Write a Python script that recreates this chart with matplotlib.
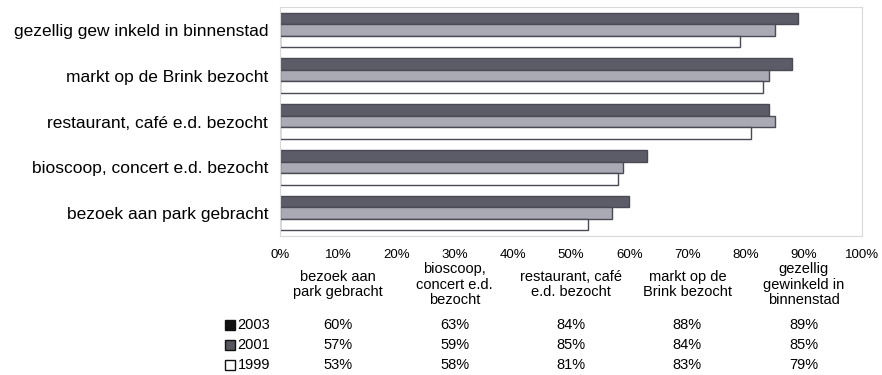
import numpy as np
import matplotlib.pyplot as plt

plt.rcParams['font.family'] = ['Liberation Sans', 'DejaVu Sans']

# categories, top to bottom in the chart
categories = ["gezellig gew inkeld in binnenstad", "markt op de Brink bezocht",
              "restaurant, café e.d. bezocht", "bioscoop, concert e.d. bezocht",
              "bezoek aan park gebracht"]
years = ["2003", "2001", "1999"]
v2003 = [89, 88, 84, 63, 60]
v2001 = [85, 84, 85, 59, 57]
v1999 = [79, 83, 81, 58, 53]

# table below the chart (left to right)
table_headers = ["bezoek aan\npark gebracht", "bioscoop,\nconcert e.d.\nbezocht",
                 "restaurant, café\ne.d. bezocht", "markt op de\nBrink bezocht",
                 "gezellig\ngewinkeld in\nbinnenstad"]
table_cols = [0.1, 0.3, 0.5, 0.7, 0.9]

fill_colors = ["#5b5c68", "#a9aab3", "#ffffff"]
edge_color = "#4a4a55"
legend_fc = ["#111111", "#55565e", "#ffffff"]

fig = plt.figure(figsize=(8.82, 3.75), dpi=100)
ax = fig.add_axes([280 / 882, 1 - 236 / 375, 582 / 882, 229 / 375])

n = len(categories)
ypos = np.arange(n)[::-1]
h = 0.253
series = [v2003, v2001, v1999]
for k, vals in enumerate(series):
    ax.barh(ypos + h * (1 - k), np.array(vals) / 100.0, height=h,
            color=fill_colors[k], edgecolor=edge_color, linewidth=1.0)

ax.set_xlim(0, 1)
ax.set_ylim(-0.5, n - 0.5)
ax.set_xticks(np.arange(0, 1.01, 0.1))
ax.set_xticklabels([f"{int(round(t * 100))}%" for t in np.arange(0, 1.01, 0.1)], fontsize=9.5)
ax.set_yticks(ypos)
ax.set_yticklabels(categories, fontsize=12.5)
ax.tick_params(axis='both', length=0)
ax.tick_params(axis='x', pad=9.5)
ax.tick_params(axis='y', pad=8.5)
for s in ax.spines.values():
    s.set_color("#d9d9d9")
    s.set_linewidth(0.8)

# data table
xt = ax.get_xaxis_transform()
for x, txt in zip(table_cols, table_headers):
    ax.text(x, -0.212, txt, transform=xt, ha='center', va='center',
            fontsize=10.5, linespacing=1.1, clip_on=False)

row_y = [-0.389, -0.476, -0.563]
for k, vals in enumerate(series):
    for x, v in zip(table_cols, vals[::-1]):
        ax.text(x, row_y[k], f"{v}%", transform=xt, ha='center',
                va='center', fontsize=10.5, clip_on=False)
    ax.plot([-0.086], [row_y[k]], marker='s', markersize=7, markerfacecolor=legend_fc[k],
            markeredgecolor="#111111", markeredgewidth=1.0, transform=xt, clip_on=False)
    ax.text(-0.073, row_y[k], years[k], transform=xt, ha='left',
            va='center', fontsize=10.5, clip_on=False)

fig.savefig("out.png", dpi=100)
